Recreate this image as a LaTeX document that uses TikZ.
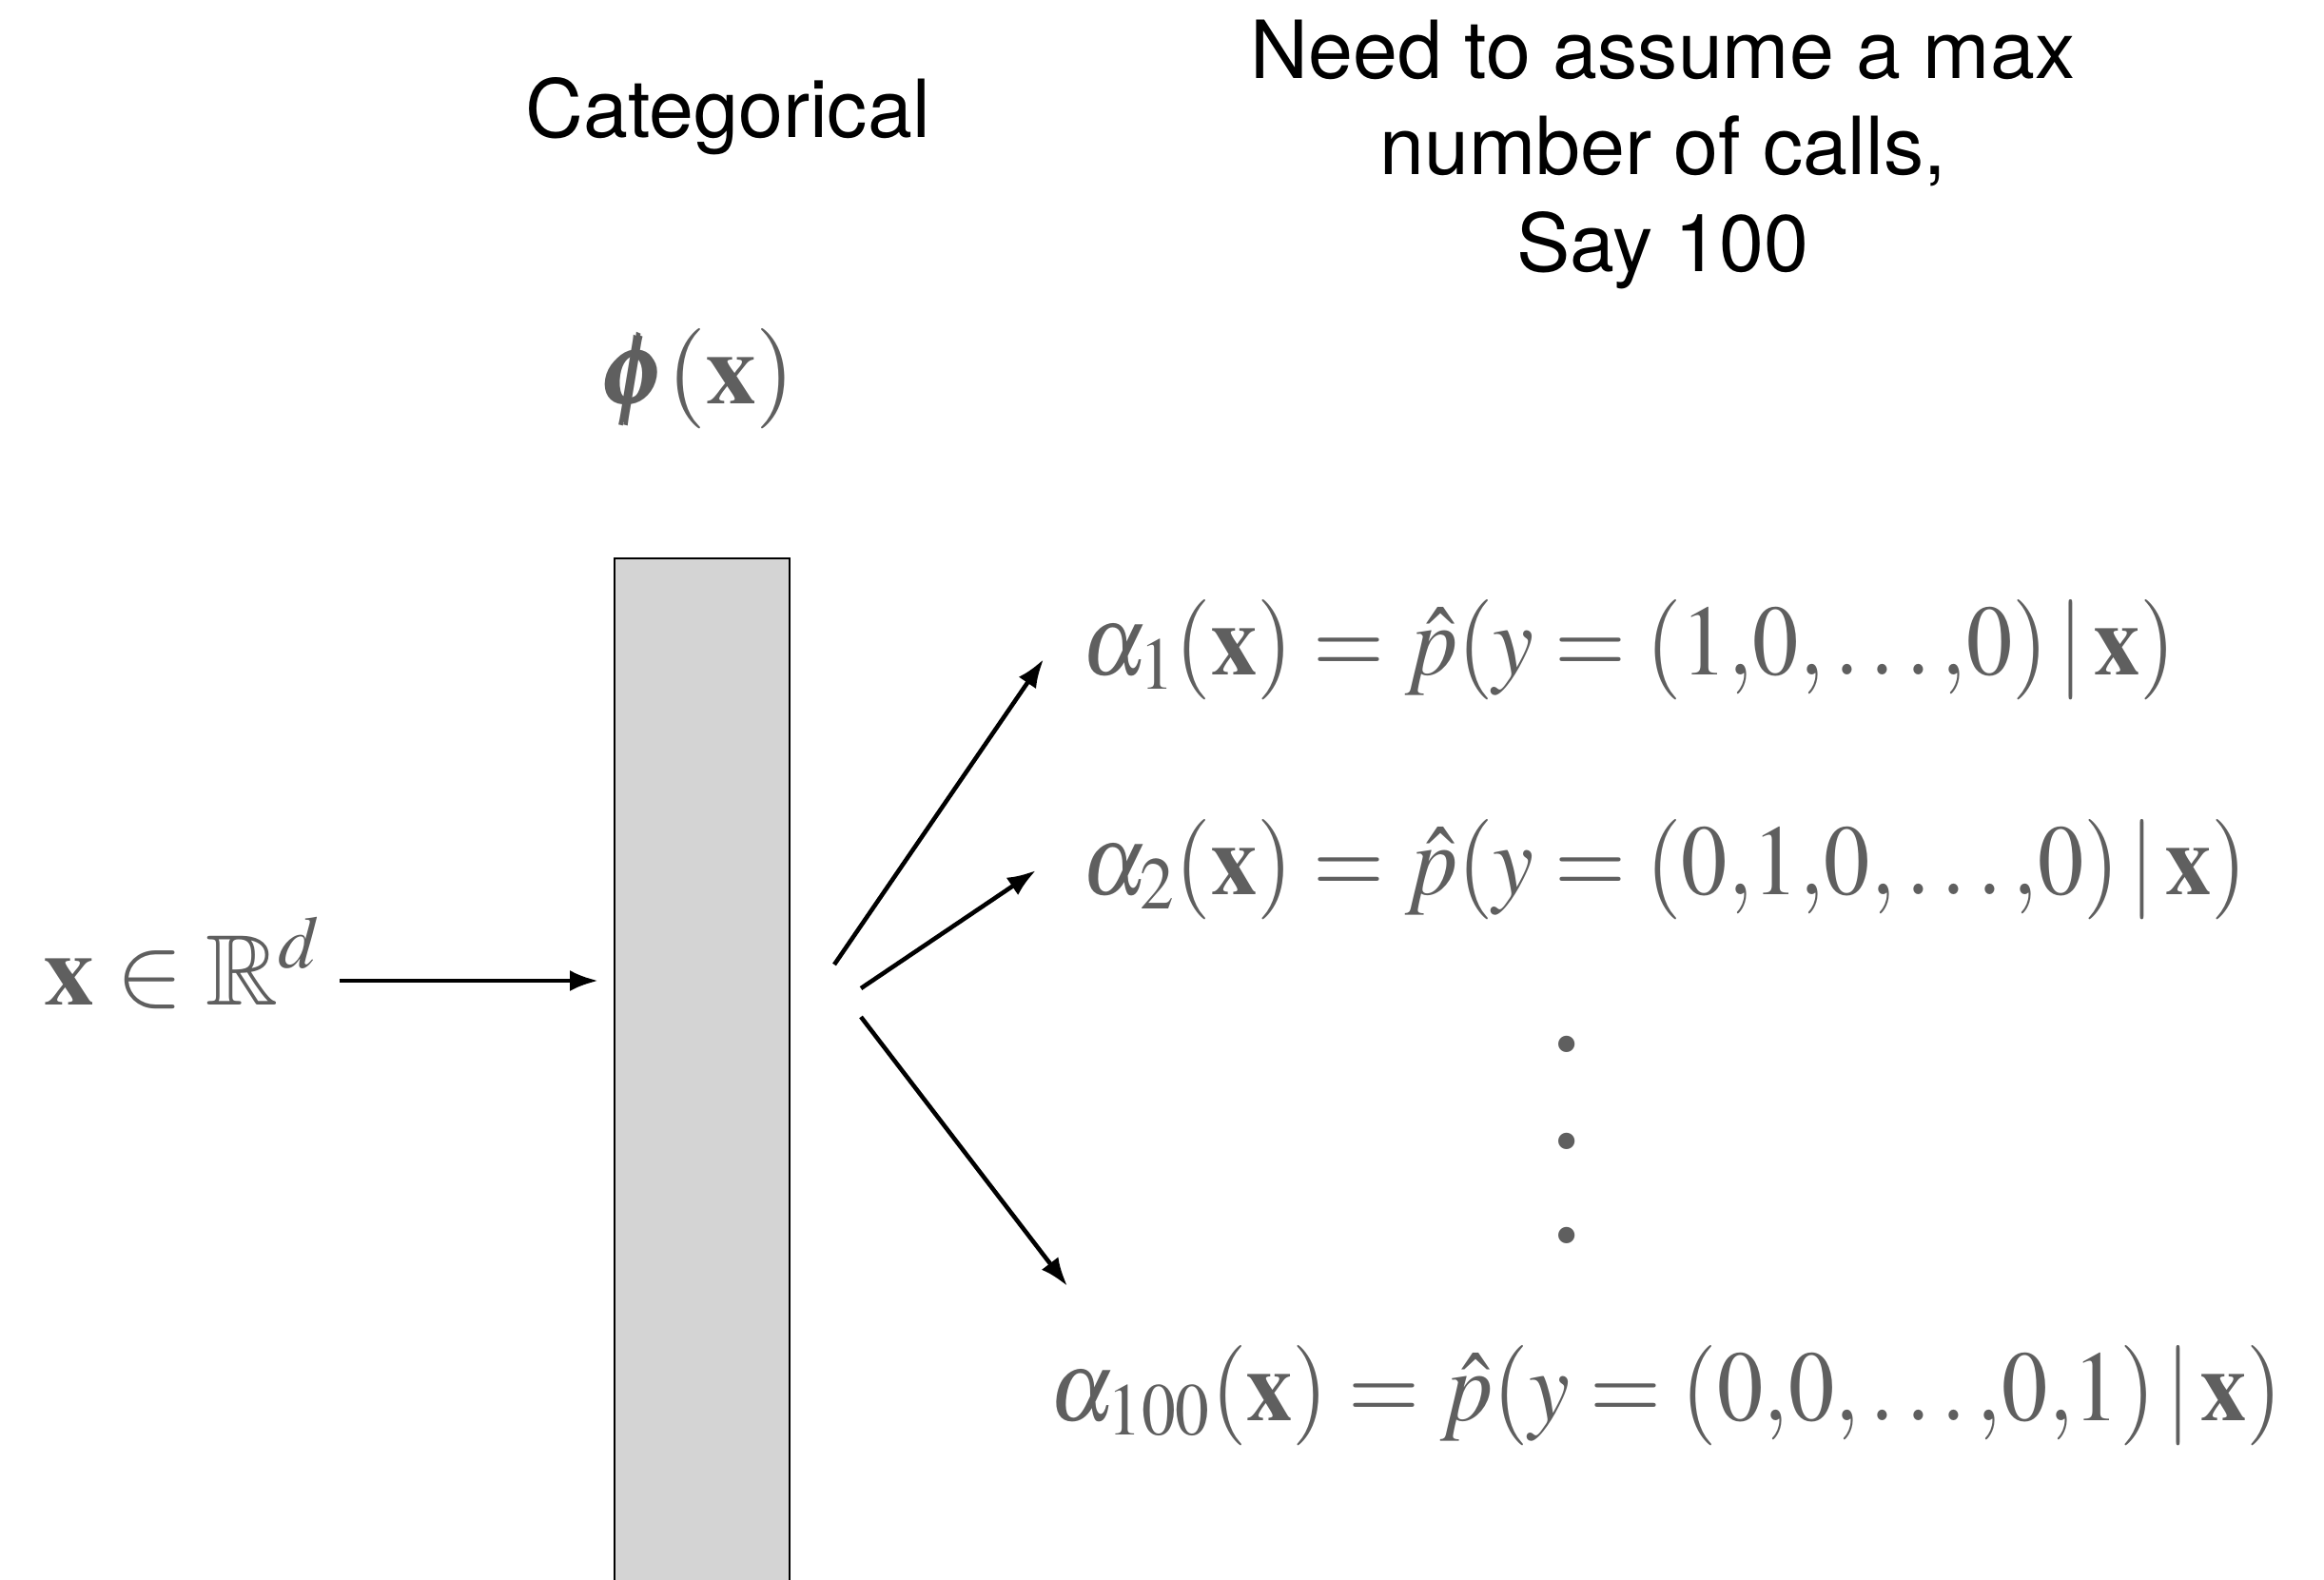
\documentclass[tikz,border=0pt]{standalone}
\usepackage{amsmath,amssymb}
\usepackage{graphicx}
\usepackage{mathptmx}
\usepackage[no-math]{fontspec}
\newfontfamily\helv{TeX Gyre Heros}
\usetikzlibrary{positioning, arrows.meta, calc}
\definecolor{eqgray}{HTML}{5F5F5F}
\definecolor{boxgray}{HTML}{D4D4D4}
\newcommand{\narrow}[1]{\scalebox{0.915}[1]{#1}}

\begin{document}
\begin{tikzpicture}[
    eq/.style={text=eqgray, font=\fontsize{30}{36}\selectfont, inner sep=0pt, anchor=base west},
    hdr/.style={font=\helv\fontsize{24}{28.9}\selectfont, align=center, inner sep=0pt},
    arr/.style={-{Latex[length=0.3cm, width=0.22cm]}, line width=1.3pt}
  ]
    \useasboundingbox (0,0) rectangle (24.43,-16.60);

    % headings
    \node[hdr, anchor=base] (cat) at (7.65,-1.45) {Categorical};
    \node[hdr, anchor=north] (need) at (17.48,-0.20)
          {Need to assume a max\\number of calls,\\Say 100};

    % feature box
    \node[eq, anchor=base] (phi) at (7.35,-4.24) {$\pmb{\phi}(\mathbf{x})$};
    \node[draw=black, fill=boxgray, line width=0.6pt, minimum width=1.84cm,
          minimum height=10.8cm, inner sep=0pt, anchor=north west] (box) at (6.45,-5.86) {};

    % input
    \node[eq, anchor=base east, text height=0.5cm, text depth=0cm] (in) at (3.38,-10.56)
          {$\mathbf{x}\in\mathbb{R}^d$};
    \draw[arr, shorten <=0.19cm, shorten >=0.16cm] (in.east) -- (in.east -| box.west);

    % outputs
    \node[eq] (a1) at (11.37,-7.09)
          {\narrow{$\alpha_1(\mathbf{x}) = \hat{p}(y=(1{,}0{,}\ldots{,}0)\,|\,\mathbf{x})$}};
    \node[eq] (a2) at (11.37,-9.40)
          {\narrow{$\alpha_2(\mathbf{x}) = \hat{p}(y=(0{,}1{,}0{,}\ldots{,}0)\,|\,\mathbf{x})$}};
    \node[eq] (a100) at (11.03,-14.93)
          {\narrow{$\alpha_{100}(\mathbf{x}) = \hat{p}(y=(0{,}0{,}\ldots{,}0{,}1)\,|\,\mathbf{x})$}};
    \foreach \k/\yy in {1/10.98, 2/12.00, 3/12.99}
      \node[text=eqgray, font=\fontsize{34}{40}\bfseries, inner sep=0pt] (dot\k) at (16.47,-\yy) {.};

    % fan-out arrows
    \coordinate (f1) at (8.77,-10.14);
    \coordinate (f2) at (9.05,-10.39);
    \coordinate (f3) at (9.05,-10.69);
    \coordinate (t1) at (10.97,-6.93);
    \coordinate (t2) at (10.89,-9.15);
    \coordinate (t3) at (11.22,-13.52);
    \draw[arr] (f1) -- (t1);
    \draw[arr] (f2) -- (t2);
    \draw[arr] (f3) -- (t3);
  \end{tikzpicture}
\end{document}
